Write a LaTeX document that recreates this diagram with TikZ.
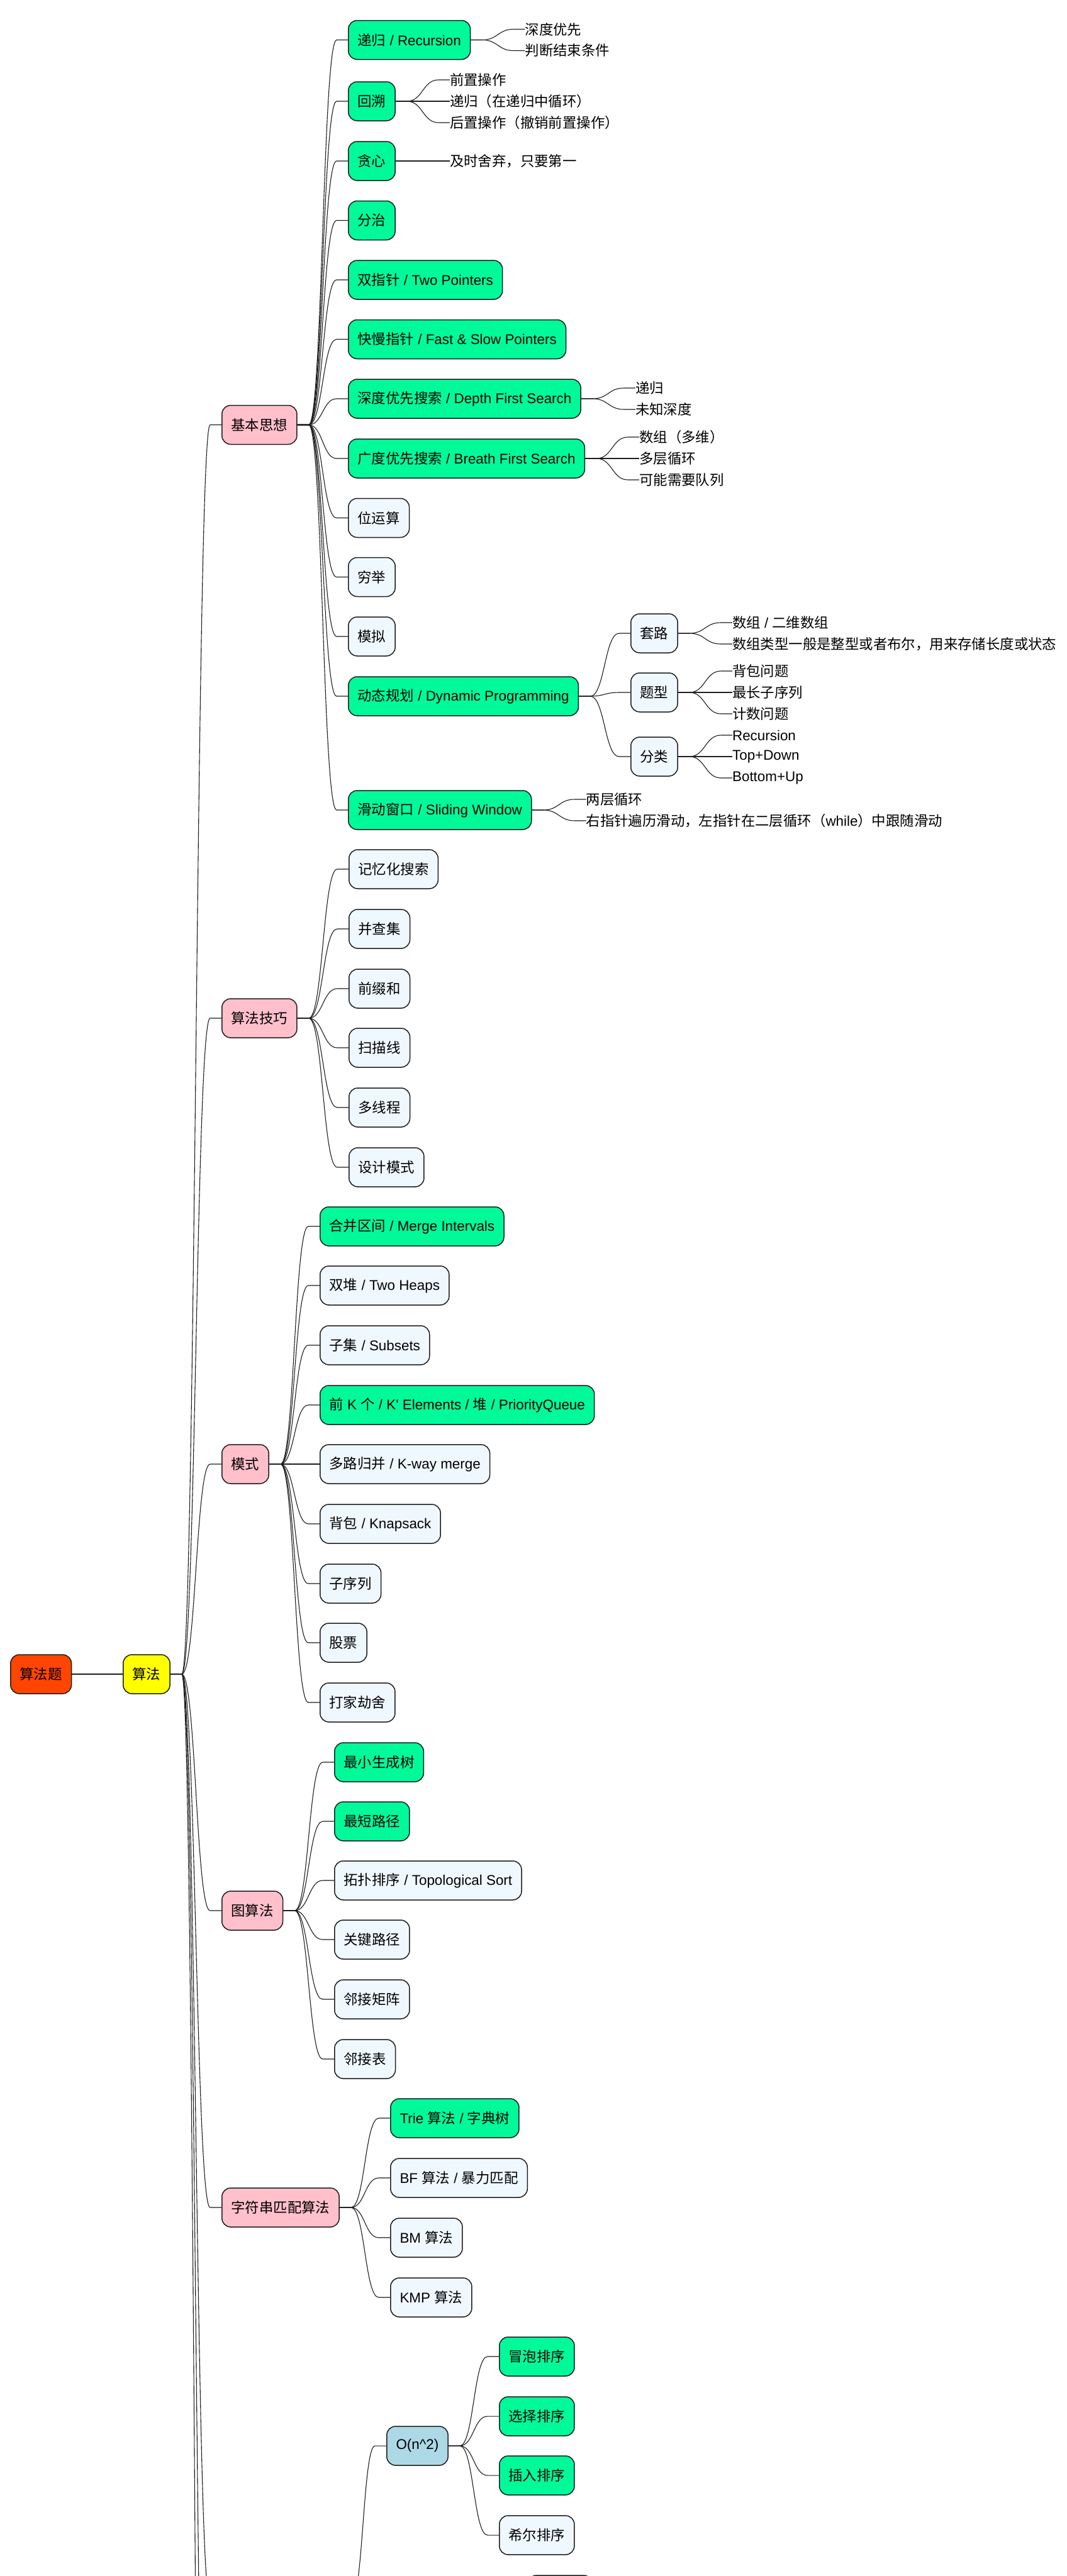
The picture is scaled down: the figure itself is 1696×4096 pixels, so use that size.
\documentclass[tikz,border=0pt]{standalone}
\usepackage{fontspec}
\setmainfont{Liberation Sans}
\newfontfamily\cjkfont{Noto Sans CJK SC}
\XeTeXinterchartokenstate=1
\newXeTeXintercharclass\CJKcls
\newcount\cjkc
\cjkc="3000 \loop\ifnum\cjkc<"3040 \XeTeXcharclass\cjkc=\CJKcls \advance\cjkc by 1 \repeat
\cjkc="4E00 \loop\ifnum\cjkc<"A000 \XeTeXcharclass\cjkc=\CJKcls \advance\cjkc by 1 \repeat
\cjkc="FF00 \loop\ifnum\cjkc<"FFF0 \XeTeXcharclass\cjkc=\CJKcls \advance\cjkc by 1 \repeat
\XeTeXinterchartoks 0 \CJKcls={\cjkfont}
\XeTeXinterchartoks 4095 \CJKcls={\cjkfont}
\XeTeXinterchartoks \CJKcls 0={\rmfamily}
\XeTeXinterchartoks \CJKcls 4095={\rmfamily}
\usetikzlibrary{calc}
\definecolor{mgreen}{HTML}{00FA9A}
\definecolor{alice}{HTML}{F0F8FF}
\definecolor{pinkc}{HTML}{FFC0CB}
\definecolor{lblue}{HTML}{ADD8E6}
\definecolor{rootc}{HTML}{FF4500}
\definecolor{yel}{HTML}{FFFF00}
\definecolor{bordc}{HTML}{1E1E1E}
\definecolor{linec}{HTML}{1E1E1E}
\newcommand\fsz{\fontsize{22.4pt}{26pt}\selectfont}
\tikzset{
  base/.style={draw=bordc, line width=1.5pt, rounded corners=14pt, minimum height=62pt,
    inner xsep=14.8pt, inner ysep=0pt, anchor=west, text=black, font=\fsz},
  gr/.style={base, fill=mgreen},
  lt/.style={base, fill=alice},
  pk/.style={base, fill=pinkc},
  lb/.style={base, fill=lblue},
  leaf/.style={inner sep=0pt, anchor=west, font=\fsz, text=black},
  conn/.style={draw=linec, line width=1.1pt},
}
\newcommand\conn[2]{%
  \path (#1.east) ++(18pt,0pt) coordinate (cA);
  \path (#2.west) ++(-18pt,0pt) coordinate (cB);
  \draw[conn] (#1.east) -- (cA) .. controls ($(cA)!0.5!(cB|-cA)$) and ($(cB)!0.5!(cA|-cB)$) .. (cB) -- (#2.west);}
\newcommand\leaf[4]{%
  \node[leaf] (#1) at ($(#2.east)+(86,#3)$) {#4};
  \conn{#2}{#1}}
\begin{document}
\begin{tikzpicture}[x=1pt,y=-1pt]
\useasboundingbox (0,0) rectangle (1696,4096);
\fill[white] (0,0) rectangle (1696,4096);
\clip (0,0) rectangle (1696,4096);

% root and level 1
\node[base, fill=rootc] (r) at (16,2662) {算法题};
\node[base, fill=yel] (sf) at (195,2662) {算法};
\draw[conn] (r.east) -- (sf.west);

\node[pk] (g1) at (352,675.5) {基本思想};
\node[pk] (g2) at (352,1619) {算法技巧};
\node[pk] (g3) at (352,2328) {模式};
\node[pk] (g4) at (352,3038) {图算法};
\node[pk] (g5) at (352,3510) {字符串匹配算法};
\coordinate (h1) at (352,4137);
\coordinate (h2) at (352,4760);
\coordinate (h3) at (352,5813);
\coordinate (sortE) at (540,4137);
\foreach \g in {g1,g2,g3,g4,g5,h1,h2,h3} {\conn{sf}{\g}}

% 基本思想
\node[gr] (a1) at (553,63.5) {递归 / Recursion};
\node[gr] (a2) at (553,161) {回溯};
\node[gr] (a3) at (553,256) {贪心};
\node[gr] (a4) at (553,350.5) {分治};
\node[gr] (a5) at (553,445) {双指针 / Two Pointers};
\node[gr] (a6) at (553,539.5) {快慢指针 / Fast \& Slow Pointers};
\node[gr] (a7) at (553,634) {深度优先搜索 / Depth First Search};
\node[gr] (a8) at (553,729) {广度优先搜索 / Breath First Search};
\node[lt] (a9) at (553,823.5) {位运算};
\node[lt] (a10) at (553,917.5) {穷举};
\node[lt] (a11) at (553,1012) {模拟};
\node[gr] (a12) at (553,1107) {动态规划 / Dynamic Programming};
\node[gr] (a13) at (553,1288) {滑动窗口 / Sliding Window};
\foreach \n in {a1,a2,a3,a4,a5,a6,a7,a8,a9,a10,a11,a12,a13} {\conn{g1}{\n}}

\leaf{l11}{a1}{-17}{深度优先}
\leaf{l12}{a1}{17}{判断结束条件}
\leaf{l21}{a2}{-34}{前置操作}
\leaf{l22}{a2}{0}{递归（在递归中循环）}
\leaf{l23}{a2}{34}{后置操作（撤销前置操作）}
\leaf{l31}{a3}{0}{及时舍弃，只要第一}
\leaf{l71}{a7}{-17}{递归}
\leaf{l72}{a7}{17}{未知深度}
\leaf{l81}{a8}{-34}{数组（多维）}
\leaf{l82}{a8}{0}{多层循环}
\leaf{l83}{a8}{34}{可能需要队列}

\node[lt] (dp1) at (1002,1007) {套路};
\node[lt] (dp2) at (1002,1101) {题型};
\node[lt] (dp3) at (1002,1203) {分类};
\foreach \n in {dp1,dp2,dp3} {\conn{a12}{\n}}
\leaf{p11}{dp1}{-17}{数组 / 二维数组}
\leaf{p12}{dp1}{17}{数组类型一般是整型或者布尔，用来存储长度或状态}
\leaf{p21}{dp2}{-34}{背包问题}
\leaf{p22}{dp2}{0}{最长子序列}
\leaf{p23}{dp2}{34}{计数问题}
\leaf{p31}{dp3}{-34}{Recursion}
\leaf{p32}{dp3}{0}{Top+Down}
\leaf{p33}{dp3}{34}{Bottom+Up}

\leaf{w1}{a13}{-17}{两层循环}
\leaf{w2}{a13}{17}{右指针遍历滑动，左指针在二层循环（while）中跟随滑动}

% 算法技巧
\node[lt] (b1) at (554,1382) {记忆化搜索};
\node[lt] (b2) at (554,1477) {并查集};
\node[lt] (b3) at (554,1572) {前缀和};
\node[lt] (b4) at (554,1666) {扫描线};
\node[lt] (b5) at (554,1761) {多线程};
\node[lt] (b6) at (554,1856) {设计模式};
\foreach \n in {b1,b2,b3,b4,b5,b6} {\conn{g2}{\n}}

% 模式
\node[gr] (c1) at (508,1950) {合并区间 / Merge Intervals};
\node[lt] (c2) at (508,2044) {双堆 / Two Heaps};
\node[lt] (c3) at (508,2139) {子集 / Subsets};
\node[gr] (c4) at (508,2234) {前 K 个 / K\textquotesingle{} Elements / 堆 / PriorityQueue};
\node[lt] (c5) at (508,2328) {多路归并 / K-way merge};
\node[lt] (c6) at (508,2423) {背包 / Knapsack};
\node[lt] (c7) at (508,2518) {子序列};
\node[lt] (c8) at (508,2612) {股票};
\node[lt] (c9) at (508,2707) {打家劫舍};
\foreach \n in {c1,c2,c3,c4,c5,c6,c7,c8,c9} {\conn{g3}{\n}}

% 图算法
\node[gr] (d1) at (531,2802) {最小生成树};
\node[gr] (d2) at (531,2896) {最短路径};
\node[lt] (d3) at (531,2990) {拓扑排序 / Topological Sort};
\node[lt] (d4) at (531,3084) {关键路径};
\node[lt] (d5) at (531,3179) {邻接矩阵};
\node[lt] (d6) at (531,3274) {邻接表};
\foreach \n in {d1,d2,d3,d4,d5,d6} {\conn{g4}{\n}}

% 字符串匹配算法
\node[gr] (e1) at (620,3368) {Trie 算法 / 字典树};
\node[lt] (e2) at (620,3463) {BF 算法 / 暴力匹配};
\node[lt] (e3) at (620,3558) {BM 算法};
\node[lt] (e4) at (620,3653) {KMP 算法};
\foreach \n in {e1,e2,e3,e4} {\conn{g5}{\n}}

% sorting (parent below the visible area)
\node[lb] (on2) at (614,3889) {O(n\textasciicircum 2)};
\conn{sortE}{on2}
\node[gr] (f1) at (793,3747) {冒泡排序};
\node[gr] (f2) at (793,3842) {选择排序};
\node[gr] (f3) at (793,3936) {插入排序};
\node[lt] (f4) at (793,4031) {希尔排序};
\foreach \n in {f1,f2,f3,f4} {\conn{on2}{\n}}
\node[lt, minimum width=103pt] (part) at (838,4126) {};
\end{tikzpicture}
\end{document}
